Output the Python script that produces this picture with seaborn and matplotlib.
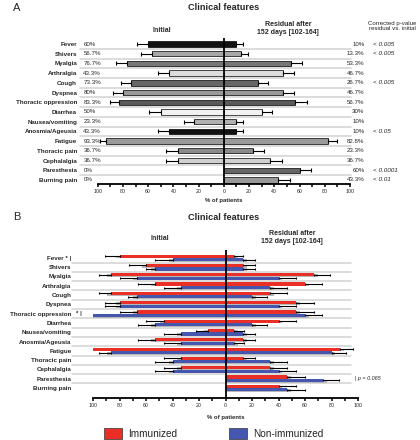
import numpy as np
import pandas as pd
import matplotlib
matplotlib.use("Agg")
import matplotlib.pyplot as plt
from matplotlib.patches import Rectangle
from matplotlib.ticker import MultipleLocator, FuncFormatter
import seaborn as sns

sns.set_theme(style="white")
plt.rcParams["font.family"] = ["Liberation Sans", "DejaVu Sans"]

symptoms = ["Fever", "Shivers", "Myalgia", "Arthralgia", "Cough", "Dyspnea",
            "Thoracic oppression", "Diarrhea", "Nausea/vomiting", "Anosmia/Ageusia",
            "Fatigue", "Thoracic pain", "Cephalalgia", "Paresthesia", "Burning pain"]

# panel A: all patients
init_pct = [60, 56.7, 76.7, 43.3, 73.3, 80, 83.3, 50, 23.3, 43.3, 93.3, 36.7, 36.7, 0, 0]
init_err = [9, 9, 8.5, 9, 8.5, 7.5, 7, 9, 8, 9, 5, 9, 9, 0, 0]
resid_pct = [10, 13.3, 53.3, 46.7, 26.7, 46.7, 56.7, 30, 10, 10, 82.8, 23.3, 36.7, 60, 43.3]
resid_err = [5.5, 6, 9, 9, 8.5, 9, 9, 8.5, 5.5, 5.5, 7, 8.5, 9, 9, 9]
pvals = ["< 0.005", "< 0.005", "", "", "< 0.005", "", "", "", "", "< 0.05",
         "", "", "", "< 0.0001", "< 0.01"]
greys = ["#111111", "#a8a8a8", "#777777", "#dcdcdc", "#666666", "#999999", "#5a5a5a",
         "#f2f2f2", "#b0b0b0", "#111111", "#9a9a9a", "#8a8a8a", "#d0d0d0", "#666666", "#999999"]

# panel B: immunized vs non-immunized
imm_init = [80, 60, 86.7, 53.3, 86.7, 80, 66.7, 46.7, 13.3, 53.3, 100, 33.3, 33.3, 0, 0]
imm_init_err = [11, 13, 9, 13, 9, 11, 13, 13, 9, 13, 0, 13, 13, 0, 0]
non_init = [40, 53.3, 66.7, 33.3, 66.7, 80, 100, 53.3, 33.3, 33.3, 86.7, 40, 40, 0, 0]
non_init_err = [13, 7, 13, 13, 7, 11, 0, 13, 13, 13, 9, 13, 13, 0, 0]
imm_res = [6.7, 13.3, 66.7, 60, 33.3, 53.3, 53.3, 40, 6.7, 13.3, 86.7, 13.3, 33.3, 46.7, 40]
imm_res_err = [6.5, 9, 12.5, 13, 13, 13.5, 13.5, 13.5, 7, 9, 9.5, 9, 13, 13.5, 13.5]
non_res = [13.3, 13.3, 40, 33.3, 20, 40, 60, 20, 13.3, 6.7, 80, 33.3, 40, 73.3, 46.7]
non_res_err = [9, 9, 13, 13, 11, 13, 13, 11, 9, 7, 11, 13, 13, 12, 13]
groups = ["Immunized", "Non-immunized"]
RED, BLUE = "#ea2f27", "#4456ae"

W, H = 420, 440
fig = plt.figure(figsize=(4.2, 4.4), dpi=100)


def fx(px):
    return px / W


def fy(py):
    return 1 - py / H


def make_ax(left, right, top, bottom):
    return fig.add_axes([fx(left), fy(bottom), (right - left) / W, (bottom - top) / H])


def style_axis(ax, ylim, pad):
    ax.set_xlim(-100, 100)
    ax.set_ylim(*ylim)
    ax.set_xlabel("")
    ax.set_ylabel("")
    for s in ["top", "left", "right"]:
        ax.spines[s].set_visible(False)
    ax.spines["bottom"].set_linewidth(1.3)
    ax.spines["bottom"].set_color("black")
    ax.xaxis.set_major_locator(MultipleLocator(20))
    ax.xaxis.set_minor_locator(MultipleLocator(10))
    ax.xaxis.set_major_formatter(FuncFormatter(lambda v, p: f"{abs(v):.0f}"))
    ax.tick_params(axis="x", which="both", direction="out", length=2.5, width=1.1,
                   bottom=True, labelsize=3.8, pad=1, color="black")
    ax.tick_params(axis="y", length=0, pad=pad)
    ax.set_yticks(range(len(symptoms)))
    ax.set_yticklabels(symptoms, fontweight="bold", fontsize=4.5)
    ax.axvline(0, color="black", lw=1.3, zorder=5)


def errs(ax, x, y, e, side, cap=1.3):
    for xi, yi, ei in zip(x, y, e):
        if ei <= 0:
            continue
        xe = [[ei], [0]] if side < 0 else [[0], [ei]]
        ax.errorbar(side * xi, yi, xerr=xe, fmt="none", ecolor="black",
                    elinewidth=0.8, capsize=cap, capthick=0.8, zorder=4)


# ---------- panel A ----------
axA = make_ax(97.7, 350, 38.2, 184.3)
pal = dict(zip(symptoms, greys))
sns.barplot(x=-np.array(init_pct), y=symptoms, hue=symptoms, palette=pal, legend=False,
            orient="h", width=0.55, edgecolor="black", linewidth=0.5, errorbar=None,
            saturation=1, ax=axA)
sns.barplot(x=np.array(resid_pct), y=symptoms, hue=symptoms, palette=pal, legend=False,
            orient="h", width=0.55, edgecolor="black", linewidth=0.5, errorbar=None,
            saturation=1, ax=axA)
rows = np.arange(len(symptoms))
errs(axA, init_pct, rows, init_err, -1)
errs(axA, resid_pct, rows, resid_err, 1)
for r in rows[:-1]:
    axA.plot([-114, 101], [r + 0.5, r + 0.5], color="#d2d2d2", lw=1.1, zorder=0.5, clip_on=False)
style_axis(axA, (14.45, -0.6), 14.9)
for r in rows:
    axA.text(-111.4, r, f"{init_pct[r]:g}%", ha="left", va="center", fontsize=4.4)
    axA.text(111.5, r, f"{resid_pct[r]:g}%", ha="right", va="center", fontsize=4.4)
    if pvals[r]:
        axA.text(118.5, r, pvals[r], ha="left", va="center", fontsize=4.6, style="italic")

fig.text(fx(13), fy(8), "A", fontsize=8, va="center", ha="left")
fig.text(fx(224), fy(8), "Clinical features", fontsize=6.6, fontweight="bold", ha="center", va="center")
fig.text(fx(162), fy(30), "Initial", fontsize=5, fontweight="bold", ha="center", va="center")
fig.text(fx(288), fy(28), "Residual after\n152 days [102-164]", fontsize=5, fontweight="bold",
         ha="center", va="center", linespacing=1.2)
fig.text(fx(392), fy(26), "Corrected p-value\nresidual vs. initial", fontsize=4.4,
         ha="center", va="center", linespacing=1.2)
fig.text(fx(224), fy(200), "% of patients", fontsize=4.3, fontweight="bold", ha="center", va="center")

# ---------- panel B ----------
axB = make_ax(93, 358, 250, 398)
left_df = pd.DataFrame({"symptom": symptoms * 2, "group": np.repeat(groups, len(symptoms)),
                        "value": -np.array(imm_init + non_init)})
right_df = pd.DataFrame({"symptom": symptoms * 2, "group": np.repeat(groups, len(symptoms)),
                         "value": np.array(imm_res + non_res)})
for df in (left_df, right_df):
    sns.barplot(data=df, x="value", y="symptom", hue="group", hue_order=groups,
                palette=[RED, BLUE], orient="h", width=0.74, gap=0.08, linewidth=0,
                errorbar=None, legend=False, saturation=1, zorder=3, ax=axB)

# grey drop shadows behind the coloured bars
off = 0.185
for vals, o, side in [(imm_init, -off, -1), (non_init, off, -1), (imm_res, -off, 1), (non_res, off, 1)]:
    for r, v in zip(rows, vals):
        if v > 0:
            axB.barh(r + o + 0.09, side * (v + 3), height=0.3, color="#b8b8b8",
                     linewidth=0, zorder=1)
errs(axB, imm_init, rows - off, imm_init_err, -1, cap=1.0)
errs(axB, non_init, rows + off, non_init_err, -1, cap=1.0)
errs(axB, imm_res, rows - off, imm_res_err, 1, cap=1.0)
errs(axB, non_res, rows + off, non_res_err, 1, cap=1.0)
for r in rows[:-1]:
    axB.plot([-116, 95], [r + 0.5, r + 0.5], color="#d2d2d2", lw=1.1, zorder=0.5, clip_on=False)
style_axis(axB, (15.07, -0.85), 15.5)
labelsB = list(symptoms)
labelsB[0] = "Fever * |"
axB.set_yticklabels(labelsB, fontweight="bold", fontsize=4.5)
axB.text(-113, 6, "* |", ha="left", va="center", fontsize=4.5, fontweight="bold")
axB.text(97.5, 13, "| p = 0.065", ha="left", va="center", fontsize=4, style="italic")

fig.text(fx(13), fy(217), "B", fontsize=8, va="center", ha="left")
fig.text(fx(224), fy(217), "Clinical features", fontsize=6.6, fontweight="bold", ha="center", va="center")
fig.text(fx(160), fy(238), "Initial", fontsize=5, fontweight="bold", ha="center", va="center")
fig.text(fx(292), fy(237), "Residual after\n152 days [102-164]", fontsize=5, fontweight="bold",
         ha="center", va="center", linespacing=1.2)
fig.text(fx(226), fy(417), "% of patients", fontsize=4.3, fontweight="bold", ha="center", va="center")

# legend
for x0, col, lab in [(104, RED, "Immunized"), (229, BLUE, "Non-immunized")]:
    fig.patches.append(Rectangle((fx(x0), fy(439)), 18 / W, 11 / H, transform=fig.transFigure,
                                 facecolor=col, edgecolor="#333333", linewidth=0.5))
    fig.text(fx(x0 + 24), fy(433.5), lab, fontsize=7.2, ha="left", va="center", color="#222222")

fig.savefig("out.png", dpi=100)
